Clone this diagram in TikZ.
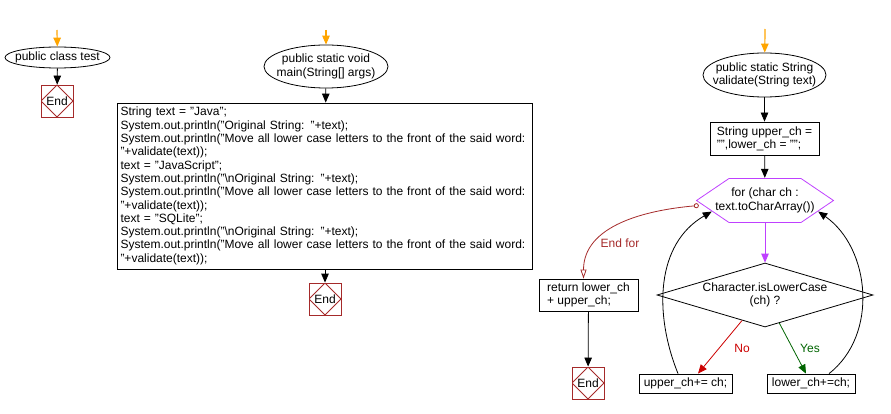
\documentclass[tikz,border=0pt]{standalone}
\usepackage{fontspec}
\setmainfont{Liberation Sans}
\usepackage{xcolor}
\usepackage{tikz}
\usetikzlibrary{shapes.geometric,arrows.meta}

\definecolor{startorange}{RGB}{255,165,0}
\definecolor{endred}{RGB}{165,42,42}
\definecolor{loopviolet}{RGB}{191,64,255}
\definecolor{nored}{RGB}{204,0,0}
\definecolor{yesgreen}{RGB}{0,100,0}

\begin{document}
\begin{tikzpicture}[
    x=1pt, y=1pt,
    font=\fontsize{12}{13.3}\selectfont,
    term/.style={ellipse, draw=black, line width=0.8pt, inner xsep=-12pt, inner ysep=-3pt, align=center},
    box/.style={rectangle, draw=black, line width=0.8pt, align=left, inner sep=3pt, anchor=center},
    endbox/.style={rectangle, draw=endred, line width=0.8pt, minimum size=32pt, inner sep=0pt,
        path picture={\draw[endred, line width=0.8pt] (path picture bounding box.north) -- (path picture bounding box.east) -- (path picture bounding box.south) -- (path picture bounding box.west) -- cycle;}},
    loopbox/.style={rectangle, minimum width=138pt, minimum height=45pt, inner sep=0pt, align=center,
        path picture={\draw[loopviolet, line width=0.8pt]
            ([xshift=0.5pt]path picture bounding box.west)
            -- ([xshift=33pt,yshift=-0.5pt]path picture bounding box.north west)
            -- ([xshift=-33pt,yshift=-0.5pt]path picture bounding box.north east)
            -- ([xshift=-0.5pt]path picture bounding box.east)
            -- ([xshift=-33pt,yshift=0.5pt]path picture bounding box.south east)
            -- ([xshift=33pt,yshift=0.5pt]path picture bounding box.south west) -- cycle;}},
    ifbox/.style={diamond, draw=black, line width=0.8pt, aspect=3.375, minimum width=216pt, minimum height=64pt, inner xsep=0pt, inner ysep=-2pt, align=center},
    lbl/.style={inner sep=0pt},
    arrow/.style={-{Triangle[length=9pt,width=7.5pt]}, line width=0.8pt},
    startarrow/.style={-{Triangle[length=9pt,width=7.5pt]}, line width=1.2pt, startorange},
]
\useasboundingbox (0,0) rectangle (891,-414);

% Class
\coordinate (s1) at (57,-30);
\node[term, minimum width=105pt, minimum height=21pt] (cls) at (57.5,-57.5) {public class test};
\node[endbox] (end1) at (57,-101) {End};
\draw[startarrow] (s1) -- (cls);
\draw[arrow] (cls) -- (end1);

% Main method
\coordinate (s2) at (326,-30);
\node[term, minimum width=124pt, minimum height=43pt] (main) at (326,-66.5) {public static void\\main(String[] args)};
\node[box, text width=409pt, minimum height=166pt] (body) at (325,-186) {String text = "Java";\\
System.out.println("Original String: "+text);\\
System.out.println("Move all lower case letters to the front of the said word:\\
"+validate(text));\\
text = "JavaScript";\\
System.out.println("\textbackslash nOriginal String: "+text);\\
System.out.println("Move all lower case letters to the front of the said word:\\
"+validate(text));\\
text = "SQLite";\\
System.out.println("\textbackslash nOriginal String: "+text);\\
System.out.println("Move all lower case letters to the front of the said word:\\
"+validate(text));};
\node[endbox] (end2) at (325,-299) {End};
\draw[startarrow] (s2) -- (main);
\draw[arrow] (main) -- (body);
\draw[arrow] (body) -- (end2);

% Validate method
\coordinate (s3) at (765,-29);
\node[term, minimum width=123pt, minimum height=44pt] (valid) at (764.5,-75) {public static String\\validate(String text)};
\node[box, minimum width=109pt, minimum height=33pt] (init) at (764.5,-138.5) {String upper\_ch =\\"",lower\_ch = "";};
\node[loopbox] (for) at (765,-200.5) {for (char ch :\\text.toCharArray())};
\node[ifbox] (dec) at (765,-295) {Character.isLowerCase\\(ch) ?};
\node[box, minimum width=93pt, minimum height=19pt, inner sep=1pt] (upper) at (685.5,-383.5) {upper\_ch+= ch;};
\node[box, minimum width=88pt, minimum height=19pt, inner sep=1pt] (lower) at (811,-383.5) {lower\_ch+=ch;};
\node[box, minimum width=99pt, minimum height=32pt] (ret) at (588.5,-295) {return lower\_ch\\+ upper\_ch;};
\node[endbox] (end3) at (588,-383) {End};
\draw[startarrow] (s3) -- (valid);
\draw[arrow] (valid) -- (init);
\draw[arrow] (init) -- (for);
\draw[arrow, loopviolet] (for) -- (dec);
\draw[arrow, nored] (dec.228) -- ([xshift=12.5pt]upper.north);
\draw[arrow, yesgreen] (dec.297) -- ([xshift=-5pt]lower.north);
\draw[arrow] ([xshift=-7.5pt]upper.north) to[out=112, in=210] ([xshift=16pt,yshift=-11pt]for.west);
\draw[arrow] ([xshift=18pt]lower.north) to[out=38, in=-35] ([xshift=-16pt,yshift=-11pt]for.east);
\draw[{Circle[open,length=5pt]}-{Triangle[open,length=9pt,width=6pt]}, line width=0.8pt, endred]
    ([xshift=3pt,yshift=-5pt]for.west) to[out=185, in=90] ([xshift=-5pt]ret.north);
\draw[arrow] (ret) -- (end3);

% Branch labels
\node[lbl, text=endred] (endfor) at (620,-243) {End for};
\node[lbl, text=nored] (no) at (742,-348) {No};
\node[lbl, text=yesgreen] (yes) at (810,-348) {Yes};

\end{tikzpicture}
\end{document}
